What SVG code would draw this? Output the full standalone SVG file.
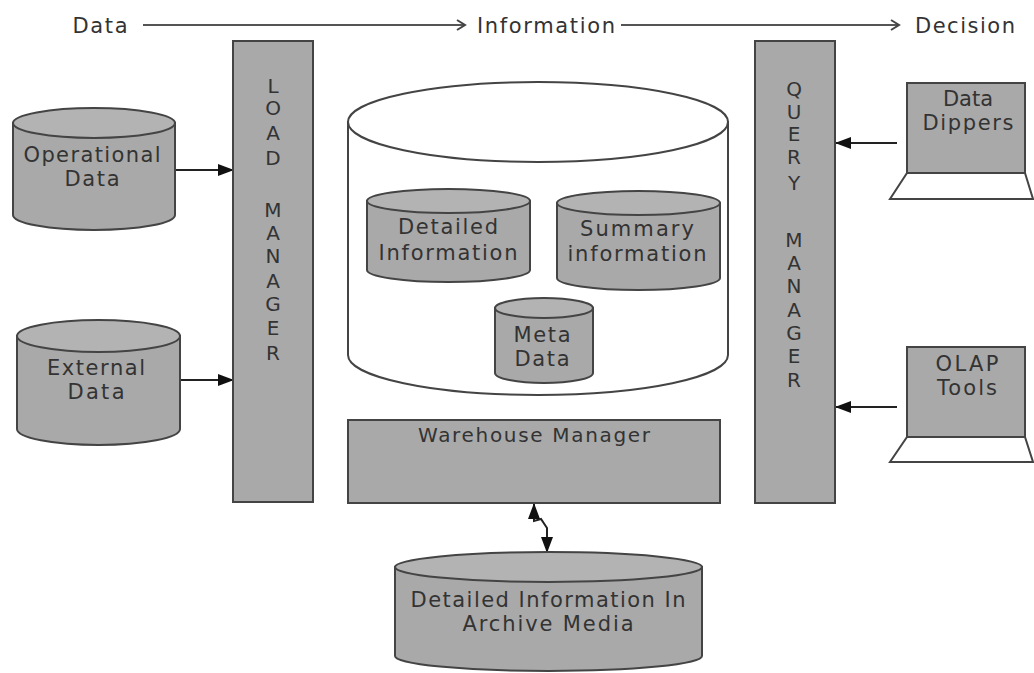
<svg xmlns="http://www.w3.org/2000/svg" width="1034" height="673" viewBox="0 0 1034 673">
<defs>
<style>
text{font-family:"DejaVu Sans","Liberation Sans",sans-serif;fill:#333;text-anchor:middle}
.t{font-size:21px}
.v{font-size:20px}
.body{fill:#a9a9a9;stroke:#444;stroke-width:2}
.top{fill:#b3b3b3;stroke:#444;stroke-width:2}
.box{fill:#a9a9a9;stroke:#444;stroke-width:2}
.white{fill:#fff;stroke:#444;stroke-width:2}
.conn{fill:none;stroke:#222;stroke-width:2}
.flow{fill:none;stroke:#555;stroke-width:2}
</style>
<marker id="ah" markerUnits="userSpaceOnUse" markerWidth="16" markerHeight="12" refX="15" refY="6" orient="auto">
<path d="M0,0 L16,6 L0,12 Z" fill="#111"/>
</marker>
<marker id="ahs" markerUnits="userSpaceOnUse" markerWidth="16" markerHeight="12" refX="15" refY="6" orient="auto-start-reverse">
<path d="M0,0 L16,6 L0,12 Z" fill="#111"/>
</marker>
<marker id="open" markerUnits="userSpaceOnUse" markerWidth="12" markerHeight="12" refX="10" refY="6" orient="auto">
<path d="M2,1 L10,6 L2,11" fill="none" stroke="#444" stroke-width="2"/>
</marker>
</defs>

<g id="labels">
<text class="t" x="100" y="33" textLength="55">Data</text>
<text class="t" x="546" y="33" textLength="138">Information</text>
<text class="t" x="965" y="33" textLength="100">Decision</text>
</g>

<g id="connectors">
<line class="flow" x1="143" y1="25" x2="465" y2="25" marker-end="url(#open)"/>
<line class="flow" x1="621" y1="25" x2="899" y2="25" marker-end="url(#open)"/>
<line class="conn" x1="175" y1="170" x2="233" y2="170" marker-end="url(#ah)"/>
<line class="conn" x1="180" y1="380" x2="233" y2="380" marker-end="url(#ah)"/>
<line class="conn" x1="897" y1="143" x2="836" y2="143" marker-end="url(#ah)"/>
<line class="conn" x1="897" y1="407" x2="836" y2="407" marker-end="url(#ah)"/>
<path class="conn" d="M534,504 V521 L541,519 L547,528 V552" marker-start="url(#ahs)" marker-end="url(#ahs)"/>
</g>

<g id="operational-data">
<path class="body" d="M13,123 V215 A81,15 0 0 0 175,215 V123 Z"/>
<ellipse class="top" cx="94" cy="123" rx="81" ry="15"/>
<text class="t" x="92" y="162" textLength="137">Operational</text>
<text class="t" x="92" y="186" textLength="55">Data</text>
</g>

<g id="external-data">
<path class="body" d="M17,336 V429 A81.5,16 0 0 0 180,429 V336 Z"/>
<ellipse class="top" cx="98.5" cy="336" rx="81.5" ry="16"/>
<text class="t" x="96" y="375" textLength="98">External</text>
<text class="t" x="96" y="399" textLength="57">Data</text>
</g>

<g id="load-manager">
<rect class="box" x="233" y="41" width="80" height="461"/>
<text class="v" x="273" y="93">L</text>
<text class="v" x="273" y="115">O</text>
<text class="v" x="273" y="140">A</text>
<text class="v" x="273" y="165">D</text>
<text class="v" x="273" y="217">M</text>
<text class="v" x="273" y="240">A</text>
<text class="v" x="273" y="263">N</text>
<text class="v" x="273" y="288">A</text>
<text class="v" x="273" y="311">G</text>
<text class="v" x="273" y="335">E</text>
<text class="v" x="273" y="360">R</text>
</g>

<g id="warehouse">
<path class="white" d="M348,122 V355 A190,40 0 0 0 728,355 V122 Z"/>
<ellipse class="white" cx="538" cy="122" rx="190" ry="40"/>
</g>

<g id="detailed-information">
<path class="body" d="M367,201 V270 A81.5,12 0 0 0 530,270 V201 Z"/>
<ellipse class="top" cx="448.5" cy="201" rx="81.5" ry="12"/>
<text class="t" x="448" y="234" textLength="100">Detailed</text>
<text class="t" x="448" y="260" textLength="139">Information</text>
</g>

<g id="summary-information">
<path class="body" d="M557,203 V278 A81.5,12 0 0 0 720,278 V203 Z"/>
<ellipse class="top" cx="638.5" cy="203" rx="81.5" ry="12"/>
<text class="t" x="637" y="236" textLength="114">Summary</text>
<text class="t" x="637" y="261" textLength="139">information</text>
</g>

<g id="meta-data">
<path class="body" d="M495,308 V373 A49,10 0 0 0 593,373 V308 Z"/>
<ellipse class="top" cx="544" cy="308" rx="49" ry="10"/>
<text class="t" x="542" y="342" textLength="57">Meta</text>
<text class="t" x="542" y="366" textLength="55">Data</text>
</g>

<g id="warehouse-manager">
<rect class="box" x="348" y="420" width="372" height="83"/>
<text class="v" x="534" y="442" textLength="232">Warehouse Manager</text>
</g>

<g id="archive-media">
<path class="body" d="M395,567 V656 A153.5,15 0 0 0 702,656 V567 Z"/>
<ellipse class="top" cx="548.5" cy="567" rx="153.5" ry="15"/>
<text class="t" x="548" y="607" textLength="275">Detailed Information In</text>
<text class="t" x="548" y="631" textLength="171">Archive Media</text>
</g>

<g id="query-manager">
<rect class="box" x="755" y="41" width="80" height="462"/>
<text class="v" x="794" y="96">Q</text>
<text class="v" x="794" y="119">U</text>
<text class="v" x="794" y="141">E</text>
<text class="v" x="794" y="164">R</text>
<text class="v" x="794" y="190">Y</text>
<text class="v" x="794" y="247">M</text>
<text class="v" x="794" y="270">A</text>
<text class="v" x="794" y="293">N</text>
<text class="v" x="794" y="317">A</text>
<text class="v" x="794" y="340">G</text>
<text class="v" x="794" y="363">E</text>
<text class="v" x="794" y="387">R</text>
</g>

<g id="data-dippers">
<rect class="box" x="907" y="83" width="118" height="90"/>
<polygon class="white" points="907,173 1025,173 1033,199 890,199"/>
<text class="t" x="968" y="106">Data</text>
<text class="t" x="968" y="130" textLength="91">Dippers</text>
</g>

<g id="olap-tools">
<rect class="box" x="907" y="347" width="118" height="90"/>
<polygon class="white" points="907,437 1025,437 1033,462 890,462"/>
<text class="t" x="967" y="371" textLength="63">OLAP</text>
<text class="t" x="967" y="395" textLength="60">Tools</text>
</g>
</svg>
